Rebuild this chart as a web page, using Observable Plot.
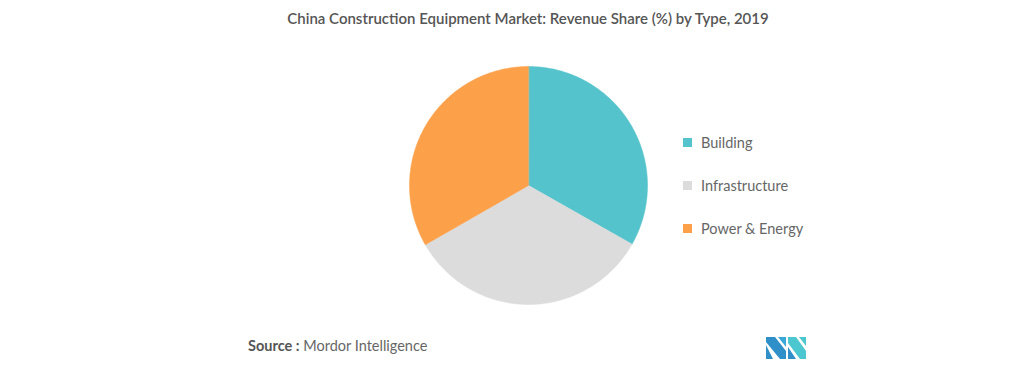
<!DOCTYPE html>
<html>
<head>
<meta charset="utf-8">
<script src="https://cdn.jsdelivr.net/npm/d3@7"></script>
<script src="https://cdn.jsdelivr.net/npm/@observablehq/plot@0.6"></script>
<style>
  html, body { margin: 0; padding: 0; background: #fff; }
  #page { position: relative; width: 1020px; height: 376px; overflow: hidden; font-family: Lato, "Open Sans", sans-serif; }
  #title { position: absolute; top: 9px; left: 0; width: 1056px; text-align: center; font-size: 15px; font-weight: 600; color: #555; }
  #chart { position: absolute; left: 0; top: 40px; }
  #legend { position: absolute; left: 683px; top: 131px; }
  .item { display: flex; align-items: center; height: 22px; margin-bottom: 21px; font-size: 14.5px; color: #666; }
  .sw { width: 9px; height: 9px; margin-right: 9px; }
  #source { position: absolute; left: 248px; top: 337px; font-size: 14.5px; color: #666; }
  #source b { font-weight: 700; color: #555; }
  #logo { position: absolute; left: 766px; top: 337px; }
</style>
</head>
<body>
<div id="page">
  <div id="title"></div>
  <div id="chart"></div>
  <div id="legend"></div>
  <div id="source"><b>Source :</b> Mordor Intelligence</div>
  <svg id="logo" width="42" height="22" viewBox="0 0 42 22">
    <polygon points="0,0 9,0 20,14 20,22 14,22 0,5" fill="#2f8fc8"/>
    <polygon points="0,8 7,22 0,22" fill="#2f8fc8"/>
    <polygon points="12,0 20,0 20,10" fill="#3aa7d6"/>
    <polygon points="22,0 30,0 40,14 40,22 34,22 22,6" fill="#4cc6cf"/>
    <polygon points="22,10 30,22 22,22" fill="#2f8fc8"/>
    <polygon points="33,0 40,0 40,9" fill="#4cc6cf"/>
  </svg>
</div>
<script>
const title = "China Construction Equipment Market: Revenue Share (%) by Type, 2019";
const categories = ["Building", "Infrastructure", "Power & Energy"];
const shares = [33.2, 33.5, 33.3];
const colors = ["#54c3cb", "#dcdcdc", "#fda04a"];

document.getElementById("title").textContent = title;

// Build slice outlines from the data (angles from d3.pie, clockwise from 12 o'clock)
const arcs = d3.pie().sort(null).value(d => d)(shares);
const pts = [];
arcs.forEach((a, i) => {
  const cat = categories[i];
  pts.push({cat, x: 0, y: 0});
  const n = Math.max(2, Math.ceil((a.endAngle - a.startAngle) / 0.01));
  for (let k = 0; k <= n; k++) {
    const t = a.startAngle + (a.endAngle - a.startAngle) * k / n;
    pts.push({cat, x: Math.sin(t), y: Math.cos(t)});
  }
});

const cx = 528, cy = 145, r = 119;
const plot = Plot.plot({
  width: 1020,
  height: 290,
  margin: 0,
  x: {domain: [-1, 1], range: [cx - r, cx + r], axis: null},
  y: {domain: [-1, 1], range: [cy + r, cy - r], axis: null},
  color: {domain: categories, range: colors},
  marks: [
    Plot.line(pts, {x: "x", y: "y", z: "cat", fill: "cat", stroke: "cat", strokeWidth: 0.5, curve: "linear-closed"})
  ]
});
document.getElementById("chart").appendChild(plot);

const legend = document.getElementById("legend");
categories.forEach((c, i) => {
  const d = document.createElement("div");
  d.className = "item";
  const s = document.createElement("span");
  s.className = "sw";
  s.style.background = colors[i];
  d.appendChild(s);
  d.appendChild(document.createTextNode(c));
  legend.appendChild(d);
});
</script>
</body>
</html>
